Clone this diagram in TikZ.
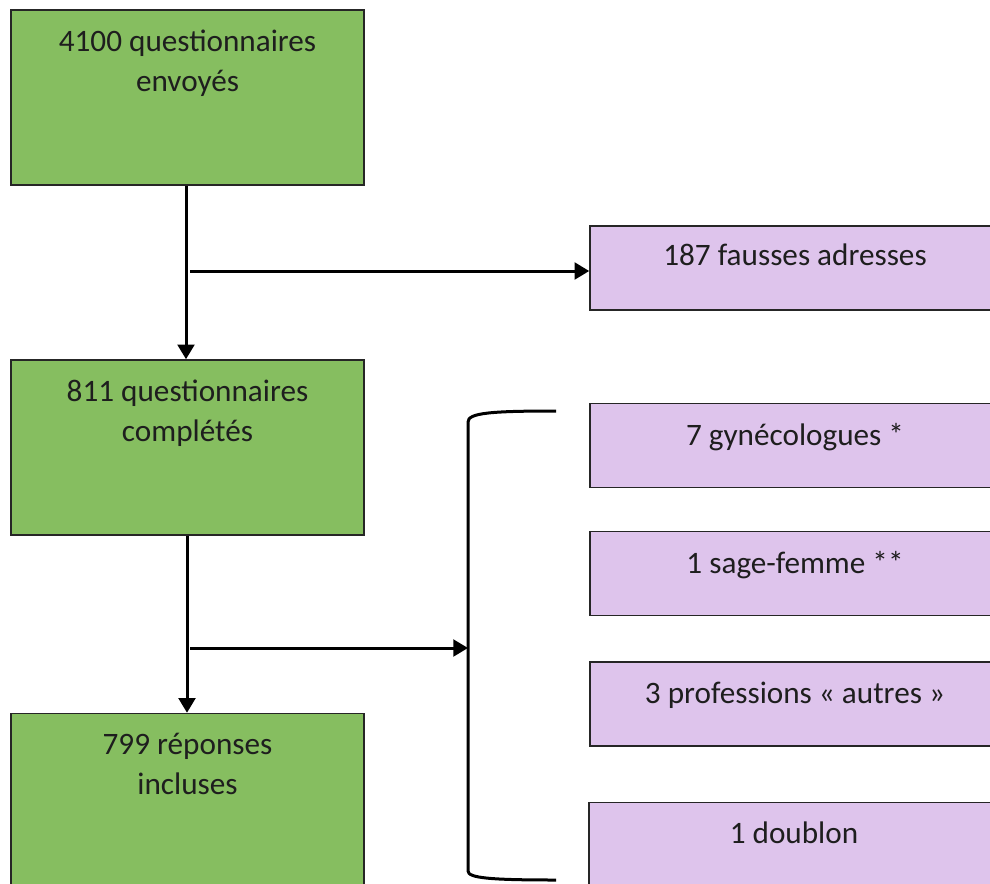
\documentclass[tikz,border=0pt]{standalone}
\usepackage{fontspec}
\setmainfont{Carlito}
\usetikzlibrary{arrows.meta}
\definecolor{boxgreen}{RGB}{134,190,96}
\definecolor{boxpurple}{RGB}{222,196,236}
\definecolor{inktext}{RGB}{30,30,30}
\tikzset{
  stage/.style={draw=black!85, line width=1.1pt, fill=boxgreen, inner sep=0pt,
    minimum width=264.75pt, minimum height=131.25pt},
  excl/.style={draw=black!85, line width=1.1pt, fill=boxpurple, inner sep=0pt,
    minimum width=307.5pt, minimum height=63pt},
  boxlabel/.style={anchor=north, inner sep=0pt, align=center, text=inktext,
    font=\fontsize{23.4pt}{30pt}\selectfont},
  flow/.style={line width=2.25pt, -{Triangle[length=11pt,width=12.5pt]}}
}
\begin{document}
\begin{tikzpicture}[x=0.75pt,y=-0.75pt]
\useasboundingbox (0,0) rectangle (990,883);
\clip (0,0) rectangle (990,883);
% Stages:
\node (q1) [stage] at (187.5,97.5) {};
\node (q2) [stage] at (187.5,447.5) {};
\node (q3) [stage] at (187.5,801) {};
\node (q1t) [boxlabel] at ([yshift=-15pt]q1.north) {4100 questionnaires\\envoyés};
\node (q2t) [boxlabel] at ([yshift=-15pt]q2.north) {811 questionnaires\\complétés};
\node (q3t) [boxlabel] at ([yshift=-15pt]q3.north) {799 réponses\\incluses};
% Exclusions:
\node (p1) [excl] at (795,268) {};
\node (p2) [excl] at (795,445.5) {};
\node (p3) [excl] at (795,573.5) {};
\node (p4) [excl] at (795,704) {};
\node (p5) [excl, minimum height=66pt] at (794,846.5) {};
\node (p1t) [boxlabel] at ([yshift=-13.5pt]p1.north) {187 fausses adresses};
\node (p2t) [boxlabel] at ([yshift=-15pt]p2.north) {7 gynécologues *};
\node (p3t) [boxlabel] at ([yshift=-15pt]p3.north) {1 sage-femme **};
\node (p4t) [boxlabel] at ([yshift=-15pt]p4.north) {3 professions « autres »};
\node (p5t) [boxlabel] at ([yshift=-14.5pt]p5.north) {1 doublon};
% Arrows:
\coordinate (j1) at (186,271);
\coordinate (j2) at (187,648);
\coordinate (br) at (468,648);
\draw[flow] (q1.south -| j1) -- (q2.north -| j1);
\draw[flow] (j1) ++(4,0) -- (j1 -| p1.west);
\draw[flow] (q2.south -| j2) -- (q3.north -| j2);
\draw[flow] (j2) ++(3,0) -- (br);
% Bracket:
\draw[line width=2.25pt] (556,411) .. controls (490,411) and (468,413) .. (468,422)
  -- (468,871) .. controls (468,878) and (490,880) .. (556,880);
\end{tikzpicture}
\end{document}
